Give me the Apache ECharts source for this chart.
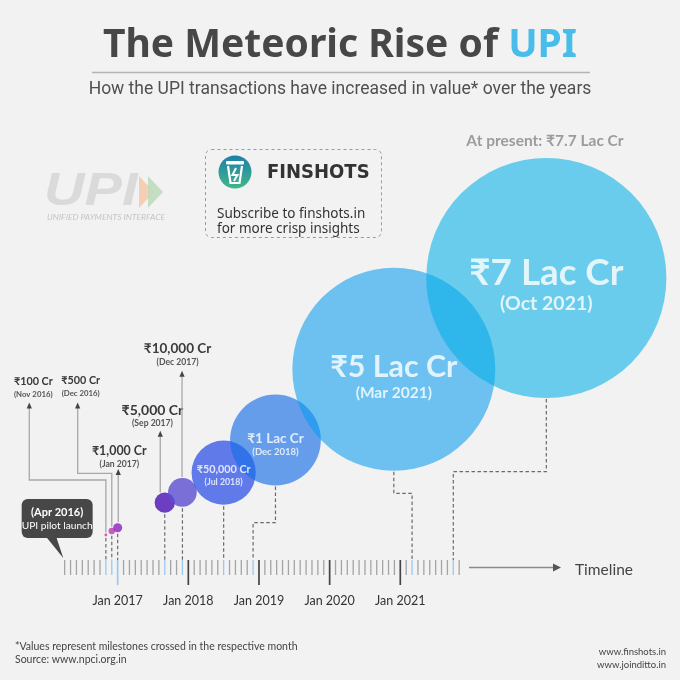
<!DOCTYPE html>
<html><head><meta charset="utf-8">
<script src="https://cdn.jsdelivr.net/npm/echarts@6/dist/echarts.min.js"></script>
<style>html,body{margin:0;padding:0;background:#f2f2f2;}#c{width:680px;height:680px;}</style>
</head><body><div id="c"></div><script>
// ---------------- DATA ----------------
// months counted from Jan 2016 (Jan 2016 = 0)
const milestoneMonths = [10, 11, 12, 20, 23, 30, 35, 62, 69];
const milestoneLabels = ['(Nov 2016)', '(Dec 2016)', '(Jan 2017)', '(Sep 2017)', '(Dec 2017)', '(Jul 2018)', '(Dec 2018)', '(Mar 2021)', '(Oct 2021)'];
const valuesCr = [100, 500, 1000, 5000, 10000, 50000, 100000, 500000, 700000];
const valueLabels = ['₹100 Cr', '₹500 Cr', '₹1,000 Cr', '₹5,000 Cr', '₹10,000 Cr', '₹50,000 Cr', '₹1 Lac Cr', '₹5 Lac Cr', '₹7 Lac Cr'];
const yearTickMonths = [12, 24, 36, 48, 60];
const yearTickLabels = ['Jan 2017', 'Jan 2018', 'Jan 2019', 'Jan 2020', 'Jan 2021'];
const timelineStartMonth = 3;   // Apr 2016, UPI pilot launch
const timelineEndMonth = 70;    // Nov 2021
const pilotMonth = 3;
const currentValueText = 'At present: ₹7.7 Lac Cr';

// ---------------- LAYOUT (not data) ----------------
const elevation = [25, 29, 32.3, 57.3, 67.7, 87.3, 120, 190.7, 282];
const bubbleShift = [0, 0, 0, 0, 0, 0, 3.8, -3.1, 15.8];
const dropElbow = [null, null, null, null, null, null, 37.3, 66.7, 88.3];
const bubbleColors = ['#e0329c', '#b53ab2', '#8a22c2', '#4a10b4', '#5a4dd0', 'rgba(52,86,232,0.96)', 'rgba(24,110,232,0.8)', 'rgba(8,156,238,0.72)', 'rgba(0,174,232,0.7)'];
const callouts = [
  {arrowDx: -76.6, tipY: 403.5, elbowY: 480, textDx: 4, mainY: 381.5, subY: 394.5, mainSize: 10.8, subSize: 7.8},
  {arrowDx: -34.1, tipY: 403.5, elbowY: 473.3, textDx: 3, mainY: 380.5, subY: 393.5, mainSize: 10.8, subSize: 7.8},
  {arrowDx: 0.6, tipY: 470, elbowY: null, textDx: 1, mainY: 450.7, subY: 464.3, mainSize: 12.4, subSize: 8.6},
  {arrowDx: -4.5, tipY: 431.7, elbowY: null, textDx: -7.8, mainY: 410.7, subY: 423.3, mainSize: 14, subSize: 8.6},
  {arrowDx: -0.4, tipY: 371.7, elbowY: null, textDx: -4.5, mainY: 348.3, subY: 362.7, mainSize: 13.5, subSize: 8.6}
];
const innerLabel = [null, null, null, null, null,
  {a: 10.8, b: 8.8, la: 13.6, lb: 13.2, off: 3},
  {a: 13.5, b: 9.5, la: 15.4, lb: 11.4, off: 4.2},
  {a: 30.4, b: 15.5, la: 34, lb: 18, off: 7},
  {a: 36.8, b: 19.5, la: 40, lb: 21.4, off: 6}];

const SANS = 'Lato, "Noto Sans", sans-serif';
function diameter(v) { return 0.287 * Math.sqrt(v); }
function txt(text, x, y, size, weight, color, align, family) {
  return {type: 'text', style: {text: text, x: x, y: y, font: (weight || 'normal') + ' ' + size + 'px ' + (family || SANS),
    fill: color, align: align || 'center', textAlign: align || 'center', verticalAlign: 'middle', textVerticalAlign: 'middle'}};
}

const tickMonths = [];
for (let m = timelineStartMonth; m <= timelineEndMonth; m++) tickMonths.push(m);

const chart = echarts.init(document.getElementById('c'));

const bubbleData = valuesCr.map((v, i) => {
  const d = {value: [milestoneMonths[i] + bubbleShift[i], elevation[i], v], itemStyle: {color: bubbleColors[i]}};
  const L = innerLabel[i];
  if (L) {
    d.label = {show: true, position: 'inside', offset: [0, L.off],
      formatter: '{a|' + valueLabels[i] + '}\n{b|' + milestoneLabels[i] + '}',
      rich: {a: {fontSize: L.a, fontWeight: 'bold', color: '#fff', fontFamily: SANS, lineHeight: L.la, align: 'center'},
             b: {fontSize: L.b, fontWeight: 'bold', color: '#fff', fontFamily: SANS, lineHeight: L.lb, align: 'center'}}};
  }
  return d;
});

function renderTicks(params, api) {
  const m = api.value(0);
  const p = api.coord([m, 0]);
  const isJan = m % 12 === 0;
  const isMs = milestoneMonths.indexOf(m) >= 0;
  const len = isJan ? 25 : 15;
  return {type: 'line', shape: {x1: p[0], y1: p[1], x2: p[0], y2: p[1] + len},
    style: {stroke: isMs ? '#9cc8f0' : (isJan ? '#444' : '#a4a4a4'), lineWidth: isJan ? 1.7 : 1.3}};
}

function renderConnectors(params, api) {
  const i = params.dataIndex;
  const t = api.coord([milestoneMonths[i], 0]);
  const c = api.coord([milestoneMonths[i] + bubbleShift[i], elevation[i]]);
  const r = diameter(valuesCr[i]) / 2;
  const kids = [];
  const dash = {stroke: '#6a6a6a', lineWidth: 1.2, lineDash: [3.5, 2.5], fill: null};
  if (dropElbow[i] == null) {
    kids.push({type: 'line', shape: {x1: t[0], y1: c[1] + r + 1.5, x2: t[0], y2: t[1]}, style: dash});
  } else {
    const ey = api.coord([0, dropElbow[i]])[1];
    kids.push({type: 'polyline', shape: {points: [[c[0], c[1] + r + 1], [c[0], ey], [t[0], ey], [t[0], t[1]]]}, style: dash});
  }
  const L = callouts[i];
  if (L) {
    const ax = c[0] + L.arrowDx;
    let pts;
    if (L.elbowY != null) {
      pts = [[c[0], c[1] - r - 1], [c[0], L.elbowY], [ax, L.elbowY], [ax, L.tipY + 4]];
    } else {
      const dx = ax - c[0];
      pts = [[ax, c[1] - Math.sqrt(Math.max(r * r - dx * dx, 0)) - 1], [ax, L.tipY + 4]];
    }
    kids.push({type: 'polyline', shape: {points: pts}, style: {stroke: '#a8a8a8', lineWidth: 1.3, fill: null}});
    kids.push({type: 'polygon', shape: {points: [[ax, L.tipY - 1], [ax - 2.6, L.tipY + 5], [ax + 2.6, L.tipY + 5]]}, style: {fill: '#444'}});
    kids.push(txt(valueLabels[i], ax + L.textDx, L.mainY, L.mainSize, 'bold', '#3a3a3a'));
    kids.push(txt(milestoneLabels[i], ax + L.textDx, L.subY, L.subSize, 'bold', '#555'));
  }
  return {type: 'group', children: kids};
}

function renderPilot(params, api) {
  const t = api.coord([api.value(0), 0]);
  const tipX = t[0] - 1.4, tipY = t[1] - 2;
  const left = tipX - 41.6, top = tipY - 59, w = 71, h = 39;
  return {type: 'group', children: [
    {type: 'rect', shape: {x: left, y: top, width: w, height: h, r: 6}, style: {fill: '#474747'}},
    {type: 'polygon', shape: {points: [[tipX - 17, top + h - 1], [tipX, tipY], [tipX - 7, top + h - 1]]}, style: {fill: '#474747'}},
    txt('(Apr 2016)', left + w / 2, top + 13.5, 11, 'bold', '#fff'),
    txt('UPI pilot launch', left + w / 2, top + 26.5, 10.2, 'normal', '#fff')
  ]};
}

const graphics = [
  {type: 'text', style: {text: '{a|The Meteoric Rise of }{b|UPI}', x: 340, y: 46, align: 'center', textAlign: 'center', verticalAlign: 'middle', textVerticalAlign: 'middle',
    rich: {a: {fontSize: 39, fontWeight: 'bold', fill: '#474747', color: '#474747', fontFamily: '"Noto Sans", sans-serif'},
           b: {fontSize: 39, fontWeight: 'bold', fill: '#49bdea', color: '#49bdea', fontFamily: '"Noto Sans", sans-serif'}}}},
  {type: 'line', shape: {x1: 92, y1: 72.5, x2: 590, y2: 72.5}, style: {stroke: '#b4b4b4', lineWidth: 1.5}},
  txt('How the UPI transactions have increased in value* over the years', 340, 90, 17.5, 'normal', '#505050', 'center', 'Roboto, sans-serif'),
  // UPI logo (faded)
  {type: 'text', position: [44, 192], scaleX: 1.22, style: {text: 'UPI', x: 0, y: 0, font: 'italic bold 46px "Liberation Sans", sans-serif', fill: '#dadada', align: 'left', textAlign: 'left', verticalAlign: 'middle', textVerticalAlign: 'middle'}},
  {type: 'polygon', shape: {points: [[139, 176], [154, 192], [139, 208]]}, style: {fill: '#f5cfb4'}},
  {type: 'polygon', shape: {points: [[148, 176], [163, 192], [148, 208]]}, style: {fill: '#bfdcbf', opacity: 0.9}},
  {type: 'text', style: {text: 'UNIFIED PAYMENTS INTERFACE', x: 47, y: 217.5, font: 'italic 8.5px ' + SANS, fill: '#c4c4c4', align: 'left', textAlign: 'left', verticalAlign: 'middle', textVerticalAlign: 'middle'}},
  // Finshots box
  {type: 'rect', shape: {x: 205.5, y: 149.5, width: 176, height: 88, r: 6}, style: {fill: null, stroke: '#9a9a9a', lineWidth: 1, lineDash: [3, 3]}},
  {type: 'circle', shape: {cx: 235, cy: 172, r: 16.5}, style: {fill: new echarts.graphic.LinearGradient(0, 0, 0, 1, [{offset: 0, color: '#1f7fa8'}, {offset: 1, color: '#3fb78a'}])}},
  {type: 'rect', shape: {x: 226, y: 161, width: 18, height: 3.5, r: 1}, style: {fill: '#fff'}},
  {type: 'polyline', shape: {points: [[228, 166], [230.5, 183], [239.5, 183], [242, 166]]}, style: {stroke: '#fff', lineWidth: 2.2, fill: null}},
  {type: 'polyline', shape: {points: [[236, 168], [232.5, 175], [237.5, 175], [234, 181]]}, style: {stroke: '#fff', lineWidth: 2, fill: null}},
  txt('FINSHOTS', 267, 172.5, 20, 'bold', '#333', 'left', '"DejaVu Sans Condensed", sans-serif'),
  txt('Subscribe to finshots.in', 217, 214, 13.5, 'normal', '#333', 'left', '"Noto Sans", sans-serif'),
  txt('for more crisp insights', 217, 229.5, 13.5, 'normal', '#333', 'left', '"Noto Sans", sans-serif'),
  txt(currentValueText, 545, 141, 15.5, 'bold', '#9c9c9c'),
  // timeline arrow
  {type: 'line', shape: {x1: 469, y1: 567.5, x2: 555, y2: 567.5}, style: {stroke: '#8a8a8a', lineWidth: 1.3}},
  {type: 'polygon', shape: {points: [[553, 563.5], [561, 567.5], [553, 571.5]]}, style: {fill: '#555'}},
  txt('Timeline', 575, 570, 15.5, 'normal', '#444', 'left'),
  // footer
  txt('*Values represent milestones crossed in the respective month', 15, 646.5, 10.5, 'normal', '#444', 'left'),
  txt('Source: www.npci.org.in', 15, 659.5, 10.5, 'normal', '#444', 'left'),
  txt('www.finshots.in', 666, 652, 9.5, 'normal', '#444', 'right'),
  txt('www.joinditto.in', 666, 664.5, 9.5, 'normal', '#444', 'right')
];

chart.setOption({
  backgroundColor: '#f2f2f2',
  animation: false,
  grid: {left: 47, right: 0, top: 0, bottom: 120, containLabel: false, outerBoundsMode: 'none'},
  xAxis: {type: 'value', min: 0, max: 107.5, interval: 12,
    axisLine: {show: false}, axisTick: {show: false}, splitLine: {show: false},
    axisLabel: {show: true, margin: 34, fontSize: 12.5, color: '#333', fontFamily: SANS,
      formatter: function (v) { const k = yearTickMonths.indexOf(v); return k >= 0 ? yearTickLabels[k] : ''; }}},
  yAxis: {type: 'value', min: 0, max: 560, show: false},
  graphic: graphics,
  series: [
    {type: 'custom', name: 'ticks', data: tickMonths.map(m => [m, 0]), renderItem: renderTicks, clip: false, silent: true, z: 1},
    {type: 'custom', name: 'connectors', data: milestoneMonths.map((m, i) => [m, elevation[i]]), renderItem: renderConnectors, clip: false, silent: true, z: 2},
    {type: 'scatter', name: 'UPI value', data: bubbleData, symbolSize: d => diameter(d[2]), clip: false, z: 3},
    {type: 'custom', name: 'pilot', data: [[pilotMonth, 0]], renderItem: renderPilot, clip: false, silent: true, z: 4}
  ]
});
</script></body></html>
